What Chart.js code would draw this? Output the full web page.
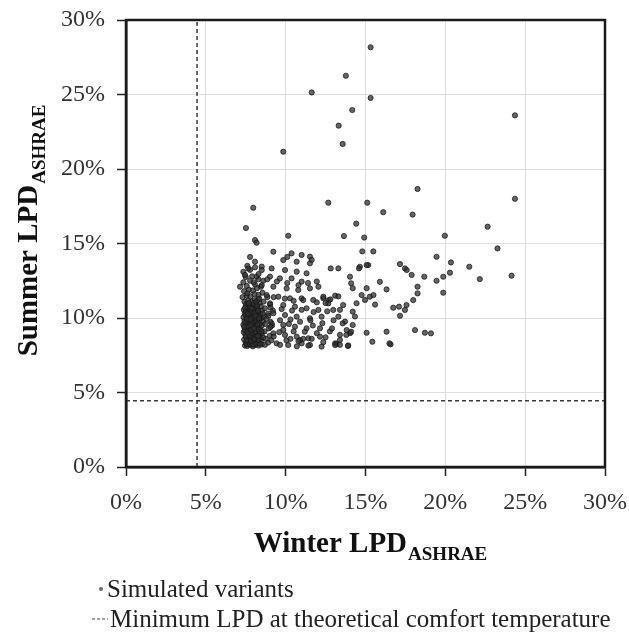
<!DOCTYPE html>
<html>
<head>
<meta charset="utf-8">
<title>Winter vs Summer LPD</title>
<script src="https://cdn.jsdelivr.net/npm/chart.js@4.4.1/dist/chart.umd.min.js"></script>
<style>
  body { margin: 0; background: #fff; }
  #wrap { width: 629px; height: 632px; }
</style>
</head>
<body>
<div id="wrap"><canvas id="lpdChart"></canvas></div>
<script>
// Winter LPD (x, %) vs Summer LPD (y, %) of simulated variants
const denseCorePoints = [
  [7.45,8.15],[7.6,8.12],[7.8,8.18],[7.95,8.1],[8.1,8.2],[8.3,8.15],[8.5,8.22],[7.5,8.35],[7.7,8.4],[7.9,8.32],
  [8.05,8.45],[8.25,8.38],[8.45,8.5],[7.4,8.55],[7.62,8.6],[7.85,8.65],[8.0,8.7],[8.2,8.62],[8.4,8.75],[8.6,8.68],
  [7.48,8.85],[7.7,8.9],[7.92,8.82],[8.12,8.95],[8.32,8.88],[8.52,9.0],[7.38,9.05],[7.58,9.12],[7.8,9.08],[8.0,9.2],
  [8.2,9.15],[8.42,9.25],[7.45,9.3],[7.66,9.38],[7.88,9.32],[8.08,9.45],[8.28,9.4],[8.5,9.5],[7.35,9.55],[7.55,9.6],
  [7.75,9.65],[7.98,9.58],[8.18,9.7],[8.38,9.62],[8.58,9.75],[7.42,9.8],[7.64,9.88],[7.86,9.82],[8.06,9.95],[8.26,9.9],
  [8.46,10.0],[7.36,10.05],[7.56,10.12],[7.78,10.08],[7.98,10.2],[8.2,10.15],[8.4,10.25],[7.44,10.3],[7.66,10.38],[7.9,10.32],
  [8.1,10.45],[8.3,10.4],[8.52,10.5],[7.38,10.55],[7.6,10.62],[7.82,10.58],[8.02,10.7],[8.24,10.65],[8.44,10.78],[7.5,10.82],
  [7.72,10.9],[7.94,10.85],[8.16,10.95],[8.36,11.02],[7.42,11.1],[7.64,11.15],[7.86,11.08],[8.06,11.2],[8.28,11.25],[7.55,8.25],
  [7.75,8.28],[7.98,8.22],[8.18,8.3],[8.38,8.28],[7.52,8.72],[7.76,8.76],[8.1,8.8],[8.3,8.52],[7.44,9.18],[7.68,9.22],
  [7.92,9.48],[8.14,9.35],[8.36,9.05],[7.48,9.68],[7.7,9.75],[7.94,9.72],[8.14,9.82],[8.34,9.85],[7.5,10.18],[7.72,10.22],
  [7.95,10.02],[8.14,10.3],[8.34,10.1],[7.52,10.45],[7.74,10.48],[7.96,10.55],[8.16,10.58],[7.54,10.95],[7.78,10.72],[8.0,10.98],
  [8.2,10.82],[7.68,8.52],[7.88,8.98],[8.08,9.05],[7.6,9.45],[8.22,9.55],[7.84,10.4],[8.04,10.36],[8.7,8.2],[8.9,8.35],
  [8.75,8.6],[9.0,8.8],[8.68,9.1],[8.95,9.3],[8.72,9.6],[9.05,9.75],[8.66,10.1],[8.9,10.3],[8.7,10.65],[9.02,10.9],
  [8.62,11.1],[8.85,11.4],[9.1,8.5],[9.15,9.5],[9.2,10.5],[8.8,9.95],[7.58,8.48],[7.82,8.45],[8.02,8.58],[8.26,8.78],
  [7.62,9.02],[7.84,9.2],[8.3,9.25],[7.4,9.42],[7.8,9.52],[8.02,9.3],[7.58,9.95],[7.8,9.92],[8.32,9.98],[7.62,10.28],
  [8.26,10.5],[7.46,10.68],[7.88,10.65],[8.1,10.15],[7.68,11.0],[8.16,11.1],[8.48,9.1],[8.56,10.3]
];
const upperCorePoints = [
  [7.3,11.4],[7.55,11.5],[7.8,11.45],[8.05,11.6],[8.3,11.55],[8.55,11.7],[7.4,11.8],[7.7,11.9],[7.95,11.85],[8.2,12.0],
  [8.45,12.1],[7.14,12.1],[7.56,12.15],[8.08,12.25],[7.35,12.4],[7.77,12.5],[8.29,12.6],[8.6,12.5],[7.5,12.75],[7.9,12.8],
  [7.35,13.1],[7.77,13.23],[8.08,13.4],[8.5,13.45],[7.6,13.5],[7.77,14.1],[8.08,13.78],[7.66,13.33],[7.45,12.89],[8.0,12.4],
  [7.6,11.65],[8.35,11.3]
];
const spreadPoints = [
  [9.23,14.45],[10.37,14.34],[11.0,14.23],[11.52,14.12],[11.63,13.9],[9.85,13.89],[10.69,13.78],[11.52,13.67],[8.5,13.22],[9.12,13.33],
  [9.96,13.22],[10.69,13.11],[11.31,13.0],[8.18,12.78],[9.02,12.78],[9.64,12.66],[10.37,12.66],[11.0,12.44],[8.5,12.2],[9.23,12.1],
  [10.06,11.99],[10.79,11.88],[11.52,11.99],[12.05,12.1],[8.81,11.54],[9.54,11.43],[10.27,11.32],[11.0,11.32],[11.73,11.21],[12.36,11.32],
  [9.02,10.98],[9.85,10.87],[10.58,10.76],[11.31,10.65],[12.05,10.54],[9.23,10.32],[9.96,10.2],[10.69,10.09],[11.52,9.98],[12.25,10.09],
  [9.12,9.64],[9.85,9.53],[10.58,9.42],[11.31,9.31],[12.15,9.31],[9.23,8.97],[9.96,8.86],[10.69,8.75],[11.42,8.64],[12.15,8.75],
  [9.43,8.3],[10.16,8.19],[11.0,8.3],[11.52,8.19],[12.25,8.08],[10.1,14.1],[8.3,12.95],[8.85,12.6],[9.45,12.45],[10.1,12.35],
  [10.8,12.2],[11.4,12.35],[11.95,12.45],[9.25,11.4],[9.95,11.3],[10.5,11.15],[11.1,11.2],[11.95,11.05],[12.7,11.2],[9.05,10.7],
  [9.75,10.6],[10.4,10.5],[11.0,10.55],[11.75,10.4],[12.6,10.45],[13.4,10.55],[8.92,10.15],[9.65,9.85],[10.3,9.9],[10.9,9.75],
  [11.55,9.85],[12.3,9.65],[13.0,9.85],[13.72,9.76],[9.05,9.4],[9.85,9.2],[10.5,9.1],[11.2,9.08],[11.95,8.98],[12.77,9.1],
  [13.4,8.87],[14.03,8.98],[9.25,8.76],[10.05,8.5],[10.9,8.52],[11.63,8.6],[12.36,8.38],[13.19,8.27],[13.92,8.16],[9.65,8.2],
  [10.7,8.1],[11.42,8.15],[10.8,8.45],[11.1,8.6],[10.3,8.6],[9.6,9.05],[10.2,9.6],[11.7,9.5],[12.5,8.7],[12.9,9.3]
];
const tailPoints = [
  [12.82,13.33],[13.3,13.33],[14.65,13.44],[15.17,13.55],[14.03,12.77],[14.1,12.33],[14.2,12.0],[15.07,12.0],[15.9,12.43],[16.32,11.92],
  [14.76,11.54],[14.97,11.21],[15.27,11.43],[15.5,11.54],[15.6,10.9],[14.44,10.99],[14.2,10.43],[14.34,10.1],[14.2,9.53],[14.1,9.08],
  [13.8,8.86],[13.4,8.53],[13.1,8.3],[13.4,8.2],[13.1,8.18],[13.9,8.12],[12.36,11.43],[12.67,10.98],[12.98,10.54],[13.3,10.09],
  [13.57,9.64],[13.82,9.19],[12.5,11.0],[12.8,11.25],[13.1,11.5],[13.3,11.45],[13.6,10.87],[14.8,14.47],[15.49,14.47],[15.07,13.55],
  [14.59,13.33],[17.16,13.62],[17.47,13.33],[17.58,13.22],[17.89,12.89],[18.68,12.77],[18.26,12.1],[18.26,11.65],[17.99,11.2],[17.57,10.87],
  [16.74,10.69],[17.16,10.15],[17.1,10.76],[17.47,10.54],[19.45,14.11],[20.35,13.73],[21.5,13.44],[20.29,13.04],[19.87,12.77],[19.45,12.5],
  [22.16,12.61],[24.15,12.84],[19.87,11.7],[18.1,9.19],[18.72,9.01],[19.1,8.97],[16.32,9.08],[15.07,9.01],[15.43,8.41],[16.57,8.23],
  [16.5,8.3],[14.42,16.33],[13.65,15.5],[14.92,15.4],[19.97,15.52],[23.27,14.67],[22.65,16.13]
];
const outlierPoints = [
  [15.32,28.17],[13.77,26.26],[11.63,25.14],[15.32,24.77],[14.17,23.96],[13.32,22.91],[13.57,21.68],[9.85,21.16],[24.36,23.6],[18.26,18.66],
  [24.36,18.0],[12.67,17.74],[15.11,17.74],[16.11,17.1],[17.95,16.94],[7.97,17.4],[7.51,16.04],[10.16,15.52],[8.08,15.23],[8.18,15.05]
];

// minimum LPD at theoretical comfort temperature (%)
const minWinterLPD = 4.45;
const minSummerLPD = 4.45;
const axisMin = 0, axisMax = 30, axisStep = 5;

const legendLabels = ['Simulated variants', 'Minimum LPD at theoretical comfort temperature'];

const serif = "'Liberation Serif', 'Times New Roman', serif";

const variants = [].concat(denseCorePoints, upperCorePoints, spreadPoints, tailPoints, outlierPoints)
  .map(p => ({ x: p[0], y: p[1] }));

function drawSubText(ctx, main, sub, cx, cy, angle) {
  ctx.save();
  ctx.translate(cx, cy);
  ctx.rotate(angle);
  ctx.fillStyle = '#111';
  ctx.textBaseline = 'alphabetic';
  ctx.textAlign = 'left';
  ctx.font = 'bold 29px ' + serif;
  const w1 = ctx.measureText(main).width;
  ctx.font = 'bold 19px ' + serif;
  const w2 = ctx.measureText(sub).width;
  const start = -(w1 + w2) / 2;
  ctx.font = 'bold 29px ' + serif;
  ctx.fillText(main, start, 0);
  ctx.font = 'bold 19px ' + serif;
  ctx.fillText(sub, start + w1 + 1, 8);
  ctx.restore();
}

const decor = {
  id: 'decor',
  afterDraw(chart) {
    const ctx = chart.ctx;
    const a = chart.chartArea;
    ctx.save();
    ctx.strokeStyle = '#1a1a1a';
    ctx.lineWidth = 2.5;
    ctx.strokeRect(a.left, a.top, a.right - a.left, a.bottom - a.top);

    drawSubText(ctx, 'Winter LPD', 'ASHRAE', 370, 552, 0);
    drawSubText(ctx, 'Summer LPD', 'ASHRAE', 37, 231, -Math.PI / 2);

    // legend
    ctx.fillStyle = 'rgba(70,70,70,0.8)';
    ctx.beginPath();
    ctx.arc(101, 589, 2, 0, Math.PI * 2);
    ctx.fill();
    ctx.strokeStyle = '#444';
    ctx.lineWidth = 1.2;
    ctx.setLineDash([3, 2]);
    ctx.beginPath();
    ctx.moveTo(92, 619);
    ctx.lineTo(108, 619);
    ctx.stroke();
    ctx.setLineDash([]);
    ctx.fillStyle = '#222';
    ctx.font = '25px ' + serif;
    ctx.textBaseline = 'alphabetic';
    ctx.fillText(legendLabels[0], 107, 597);
    ctx.fillText(legendLabels[1], 110, 627);
    ctx.restore();
  }
};

const pctTicks = {
  min: axisMin,
  max: axisMax,
  ticks: {
    stepSize: axisStep,
    padding: 12,
    color: '#333',
    font: { family: serif, size: 24 },
    callback: v => v + '%'
  },
  grid: { color: '#dedede', lineWidth: 1, tickColor: '#222', tickWidth: 1.5, tickLength: 9 },
  border: { color: '#1a1a1a', width: 2.5 }
};

new Chart(document.getElementById('lpdChart'), {
  type: 'scatter',
  data: {
    datasets: [
      {
        label: legendLabels[0],
        data: variants,
        pointRadius: 2.6,
        backgroundColor: 'rgba(50,50,50,0.75)',
        borderColor: 'rgba(20,20,20,0.72)',
        borderWidth: 1
      },
      {
        label: legendLabels[1],
        data: [{ x: minWinterLPD, y: axisMin }, { x: minWinterLPD, y: axisMax }],
        showLine: true,
        pointRadius: 0,
        borderColor: '#3a3a3a',
        borderWidth: 1.5,
        borderDash: [4, 3]
      },
      {
        label: legendLabels[1] + ' (summer)',
        data: [{ x: axisMin, y: minSummerLPD }, { x: axisMax, y: minSummerLPD }],
        showLine: true,
        pointRadius: 0,
        borderColor: '#3a3a3a',
        borderWidth: 1.5,
        borderDash: [4, 3]
      }
    ]
  },
  options: {
    responsive: true,
    maintainAspectRatio: false,
    animation: false,
    layout: { padding: { top: 20, right: 24, left: 0, bottom: 0 } },
    scales: {
      x: Object.assign({}, pctTicks, {
        afterFit: s => { s.height = 165; s.paddingLeft = 0; s.paddingRight = 0; }
      }),
      y: Object.assign({}, pctTicks, {
        afterFit: s => { s.width = 126; s.paddingTop = 0; s.paddingBottom = 0; }
      })
    },
    plugins: {
      legend: { display: false },
      tooltip: { enabled: false }
    }
  },
  plugins: [decor]
});
</script>
</body>
</html>
